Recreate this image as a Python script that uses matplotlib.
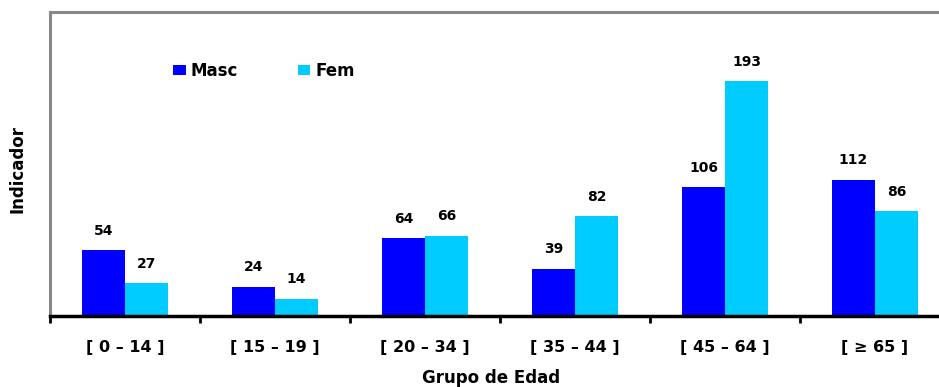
import matplotlib
matplotlib.use("Agg")
import matplotlib.pyplot as plt
import numpy as np

categories = ["[ 0 \u2013 14 ]", "[ 15 \u2013 19 ]", "[ 20 \u2013 34 ]", "[ 35 \u2013 44 ]", "[ 45 \u2013 64 ]", "[ \u2265 65 ]"]
masc = [54, 24, 64, 39, 106, 112]
fem = [27, 14, 66, 82, 193, 86]

W, H = 939, 387
fig = plt.figure(figsize=(W / 100, H / 100), dpi=100)
ax = fig.add_axes([50 / W, 1 - 316 / H, 900 / W, 304 / H])

x = np.arange(len(categories))
bw = 0.287
b1 = ax.bar(x - bw / 2, masc, bw, color="#0000FF", label="Masc")
b2 = ax.bar(x + bw / 2, fem, bw, color="#00CCFF", label="Fem")

for rects, vals in ((b1, masc), (b2, fem)):
    for r, v in zip(rects, vals):
        ax.annotate(str(v), (r.get_x() + r.get_width() / 2, v), xytext=(0, 9),
                    textcoords="offset points", ha="center", va="bottom",
                    fontsize=10, fontweight="bold", family="DejaVu Sans")

ax.set_xlim(-0.5, len(categories) - 0.5)
ax.set_ylim(0, 250)
ax.set_yticks([])
ax.set_xticks(np.arange(len(categories) + 1) - 0.5, minor=False)
ax.set_xticklabels([])
ax.set_xticks(x, minor=True)
ax.set_xticklabels(categories, minor=True, fontsize=11.5, fontweight="bold", family="DejaVu Sans")
ax.tick_params(axis="x", which="major", length=5, width=2, direction="out", color="black")
ax.tick_params(axis="x", which="minor", length=0, pad=17)

for s in ("left", "top", "right"):
    ax.spines[s].set_color("#888888")
    ax.spines[s].set_linewidth(2.2)
ax.spines["bottom"].set_color("black")
ax.spines["bottom"].set_linewidth(2.5)

fig.text(18 / W, 1 - 169 / H, "Indicador", rotation=90, ha="center", va="center",
         fontsize=12, fontweight="bold", family="DejaVu Sans")
fig.text(491 / W, 1 - 378 / H, "Grupo de Edad", ha="center", va="center",
         fontsize=12, fontweight="bold", family="DejaVu Sans")

leg = ax.legend(loc="center left", bbox_to_anchor=(118 / 900, 1 - 59 / 304), ncol=2, frameon=False,
                prop={"family": "DejaVu Sans", "weight": "bold", "size": 12},
                handlelength=0.75, handleheight=0.6, handletextpad=0.3, columnspacing=3.6,
                borderaxespad=0, borderpad=0.3)

fig.savefig("out.png", dpi=100)
